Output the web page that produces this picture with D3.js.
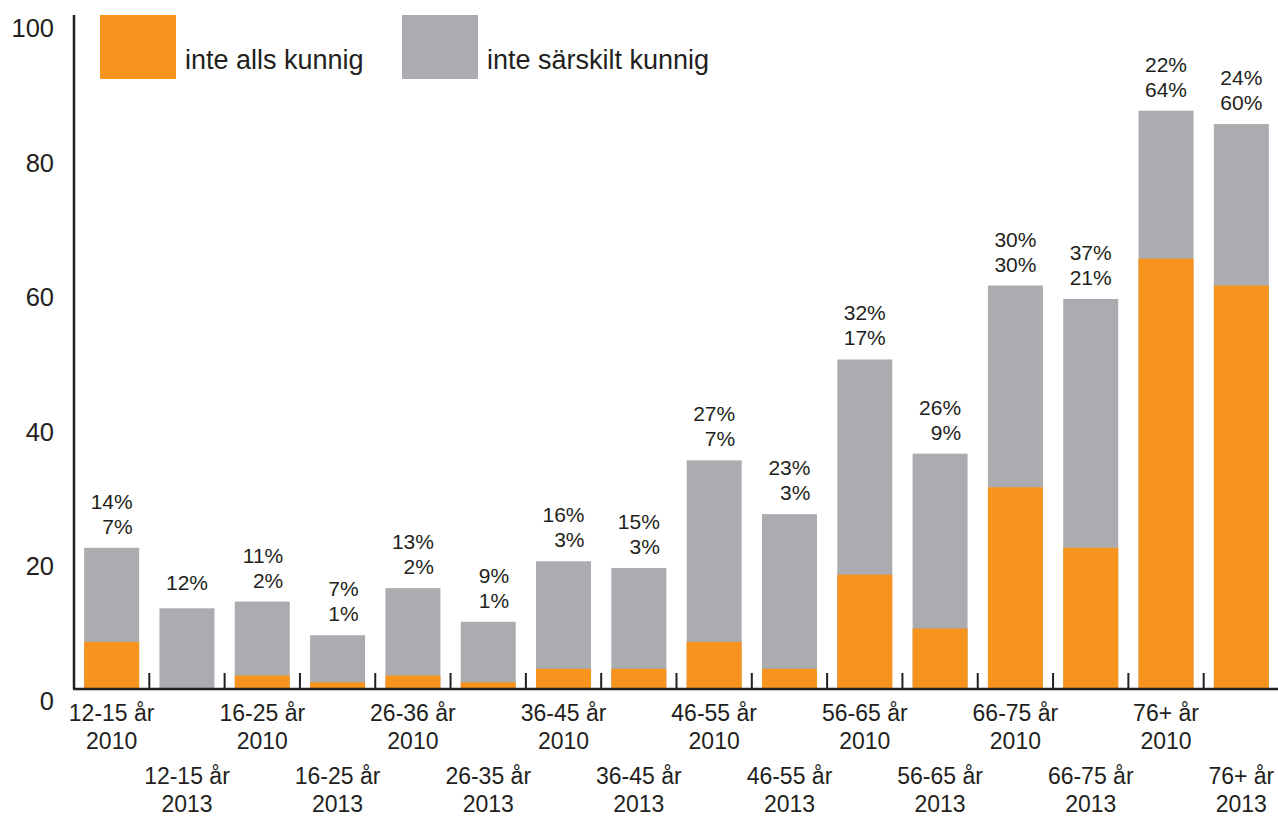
<!DOCTYPE html>
<html>
<head>
<meta charset="utf-8">
<script src="https://cdn.jsdelivr.net/npm/d3@7/dist/d3.min.js"></script>
<style>
  html, body { margin: 0; padding: 0; background: #fff; }
  svg { display: block; font-family: "Liberation Sans", Arial, Helvetica, sans-serif; }
  text { fill: #231f20; }
</style>
</head>
<body>
<svg id="chart" width="1278" height="817"></svg>
<script>
const groups = ["12-15 år", "12-15 år", "16-25 år", "16-25 år", "26-36 år", "26-35 år", "36-45 år", "36-45 år",
                "46-55 år", "46-55 år", "56-65 år", "56-65 år", "66-75 år", "66-75 år", "76+ år", "76+ år"];
const years = ["2010", "2013", "2010", "2013", "2010", "2013", "2010", "2013",
               "2010", "2013", "2010", "2013", "2010", "2013", "2010", "2013"];
const inteAlls = [7, 0, 2, 1, 2, 1, 3, 3, 7, 3, 17, 9, 30, 21, 64, 60];
const inteSarskilt = [14, 12, 11, 7, 13, 9, 16, 15, 27, 23, 32, 26, 30, 37, 22, 24];
const yTicks = [0, 20, 40, 60, 80, 100];
const seriesNames = ["inte alls kunnig", "inte särskilt kunnig"];
const colors = ["#f7941d", "#abacb0"];

const svg = d3.select("#chart");
const ids = groups.map((g, i) => i);

const x = d3.scaleBand().domain(ids).range([74, 1279]).paddingInner(0.27).paddingOuter(0.135);
const y = d3.scaleLinear().domain([0, 100]).range([689, 16.5]);
const step = x.step();

// bars
const g = svg.append("g");
ids.forEach(i => {
  const a = inteAlls[i], s = inteSarskilt[i];
  g.append("rect").attr("x", x(i)).attr("width", x.bandwidth())
    .attr("y", y(a + s)).attr("height", y(0) - y(a + s)).attr("fill", colors[1]);
  if (a > 0) {
    g.append("rect").attr("x", x(i)).attr("width", x.bandwidth())
      .attr("y", y(a)).attr("height", y(0) - y(a)).attr("fill", colors[0]);
  }
  // value labels
  const cx = x(i) + x.bandwidth() / 2;
  const top = y(a + s);
  if (a > 0) {
    g.append("text").attr("x", cx + 21).attr("y", top - 14 - 25).attr("text-anchor", "end")
      .attr("font-size", 21).text(s + "%");
    g.append("text").attr("x", cx + 21).attr("y", top - 14).attr("text-anchor", "end")
      .attr("font-size", 21).text(a + "%");
  } else {
    g.append("text").attr("x", cx).attr("y", top - 18).attr("text-anchor", "middle")
      .attr("font-size", 21).text(s + "%");
  }
});

// y axis
const yAxis = svg.append("g").attr("transform", "translate(74,0)")
  .call(d3.axisLeft(y).tickValues(yTicks).tickSize(0).tickPadding(20).tickFormat(d3.format("d")));
yAxis.select(".domain").attr("stroke", "#231f20").attr("stroke-width", 2.5).attr("d", "M0,689V15");
yAxis.selectAll("text").attr("font-size", 25.5).attr("fill", "#231f20")
  .attr("font-family", "'Liberation Sans', Arial, sans-serif").attr("dy", "20").attr("x", -20);

// x axis baseline and ticks
svg.append("line").attr("x1", 73).attr("x2", 1278).attr("y1", y(0)).attr("y2", y(0))
  .attr("stroke", "#231f20").attr("stroke-width", 2.5);
ids.forEach(i => {
  const bx = x(i) + x.bandwidth() + step * x.paddingInner() / 2;
  svg.append("line").attr("x1", bx).attr("x2", bx).attr("y1", y(0)).attr("y2", y(0) - 16)
    .attr("stroke", "#231f20").attr("stroke-width", 2);
});
svg.append("line").attr("x1", 74).attr("x2", 74).attr("y1", y(0)).attr("y2", y(0) - 16)
  .attr("stroke", "#231f20").attr("stroke-width", 2);

// x labels
ids.forEach(i => {
  const cx = x(i) + x.bandwidth() / 2;
  const row = i % 2;
  const b1 = row === 0 ? 721 : 784;
  svg.append("text").attr("x", cx).attr("y", b1).attr("text-anchor", "middle")
    .attr("font-size", 23).text(groups[i]);
  svg.append("text").attr("x", cx).attr("y", b1 + 28).attr("text-anchor", "middle")
    .attr("font-size", 23).text(years[i]);
});

// legend
const legX = [100, 402];
seriesNames.forEach((n, k) => {
  svg.append("rect").attr("x", legX[k]).attr("y", 15).attr("width", 76).attr("height", 64).attr("fill", colors[k]);
  svg.append("text").attr("x", legX[k] + 85).attr("y", 69).attr("font-size", 27).text(n);
});
</script>
</body>
</html>
